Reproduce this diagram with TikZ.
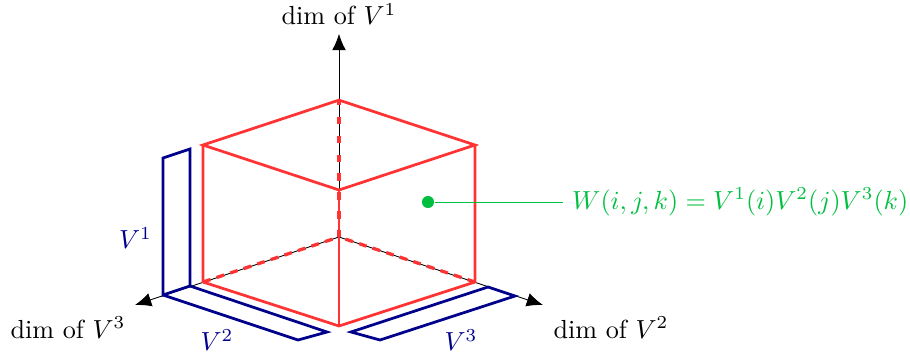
\documentclass[tikz,border=0pt]{standalone}
\usetikzlibrary{arrows.meta,positioning}
\definecolor{boxRed}{RGB}{255,51,51}
\definecolor{factorBlue}{RGB}{0,0,139}
\definecolor{entryGreen}{RGB}{0,191,64}

\begin{document}
\begin{tikzpicture}[
  >=Latex,
  every node/.style={scale=1.19},
  axis/.style={thin, draw=black, -{Latex[length=2.6mm,width=2.2mm]}},
  boxedge/.style={line width=1.25pt, draw=boxRed},
  hidden/.style={draw=boxRed, line width=1.5pt, dash pattern=on 3.6pt off 2.9pt},
  hiddenup/.style={draw=boxRed, line width=1.5pt, dash pattern=on 3.4pt off 5.2pt, dash phase=1pt},
  factor/.style={line width=1.25pt, draw=factorBlue},
  factorlabel/.style={text=factorBlue},
  entry/.style={circle, fill=entryGreen, inner sep=0pt, minimum size=4.6pt}
]
\useasboundingbox (-5.424,-1.936) rectangle (9.136,3.792);

% Corners of the box.
\coordinate (o) at (0,0);
\coordinate (top) at (0,2.19);
\coordinate (lt) at (-2.176,1.472);
\coordinate (rt) at (2.176,1.472);
\coordinate (ft) at (0,0.752);
\coordinate (fb) at (0,-1.424);
\coordinate (lb) at (-2.176,-0.72);
\coordinate (rb) at (2.176,-0.72);

% Axes.
\coordinate (ax1) at (0,3.25);
\coordinate (ax2) at (3.264,-1.088);
\coordinate (ax3) at (-3.264,-1.088);
\draw[axis] (o) -- (ax1);
\draw[axis] (o) -- (ax2);
\draw[axis] (o) -- (ax3);
\node (dim1) at (0,3.568) {dim of $V^1$};
\node (dim2) at (4.352,-1.448) {dim of $V^2$};
\node (dim3) at (-4.336,-1.448) {dim of $V^3$};

% Hidden edges.
\draw[hiddenup] (top) -- (o);
\draw[hidden] (lb) -- (o);
\draw[hidden] (rb) -- (o);

% Visible edges.
\draw[boxedge] (lt) -- (top) -- (rt) -- (ft) -- cycle;
\draw[boxedge] (lt) -- (lb) -- (fb) -- (rb) -- (rt);
\draw[boxedge] (ft) -- (fb);

% Factor vectors along the axes.
\coordinate (a1) at (-2.816,-0.928);
\coordinate (a2) at (-2.384,-0.784);
\coordinate (a3) at (-2.384,1.408);
\coordinate (a4) at (-2.816,1.264);
\draw[factor] (a1) -- (a2) -- (a3) -- (a4) -- cycle;
\node[factorlabel] (v1) at (-3.256,-0.016) {$V^1$};

\coordinate (b1) at (-0.656,-1.648);
\coordinate (b2) at (-0.192,-1.52);
\draw[factor] (a1) -- (b1) -- (b2) -- (a2);
\node[factorlabel] (v2) at (-1.952,-1.648) {$V^2$};

\coordinate (c1) at (0.192,-1.52);
\coordinate (c2) at (0.656,-1.648);
\coordinate (c3) at (2.816,-0.944);
\coordinate (c4) at (2.384,-0.8);
\draw[factor] (c1) -- (c2) -- (c3) -- (c4) -- cycle;
\node[factorlabel] (v3) at (1.952,-1.648) {$V^3$};

% One entry of the tensor.
\node[entry] (dot) at (1.424,0.56) {};
\node[anchor=west, text=entryGreen] (eq) at (3.584,0.56) {$W(i,j,k)=V^1(i)V^2(j)V^3(k)$};
\draw[entryGreen, thin] (dot) -- (eq);

\end{tikzpicture}
\end{document}
